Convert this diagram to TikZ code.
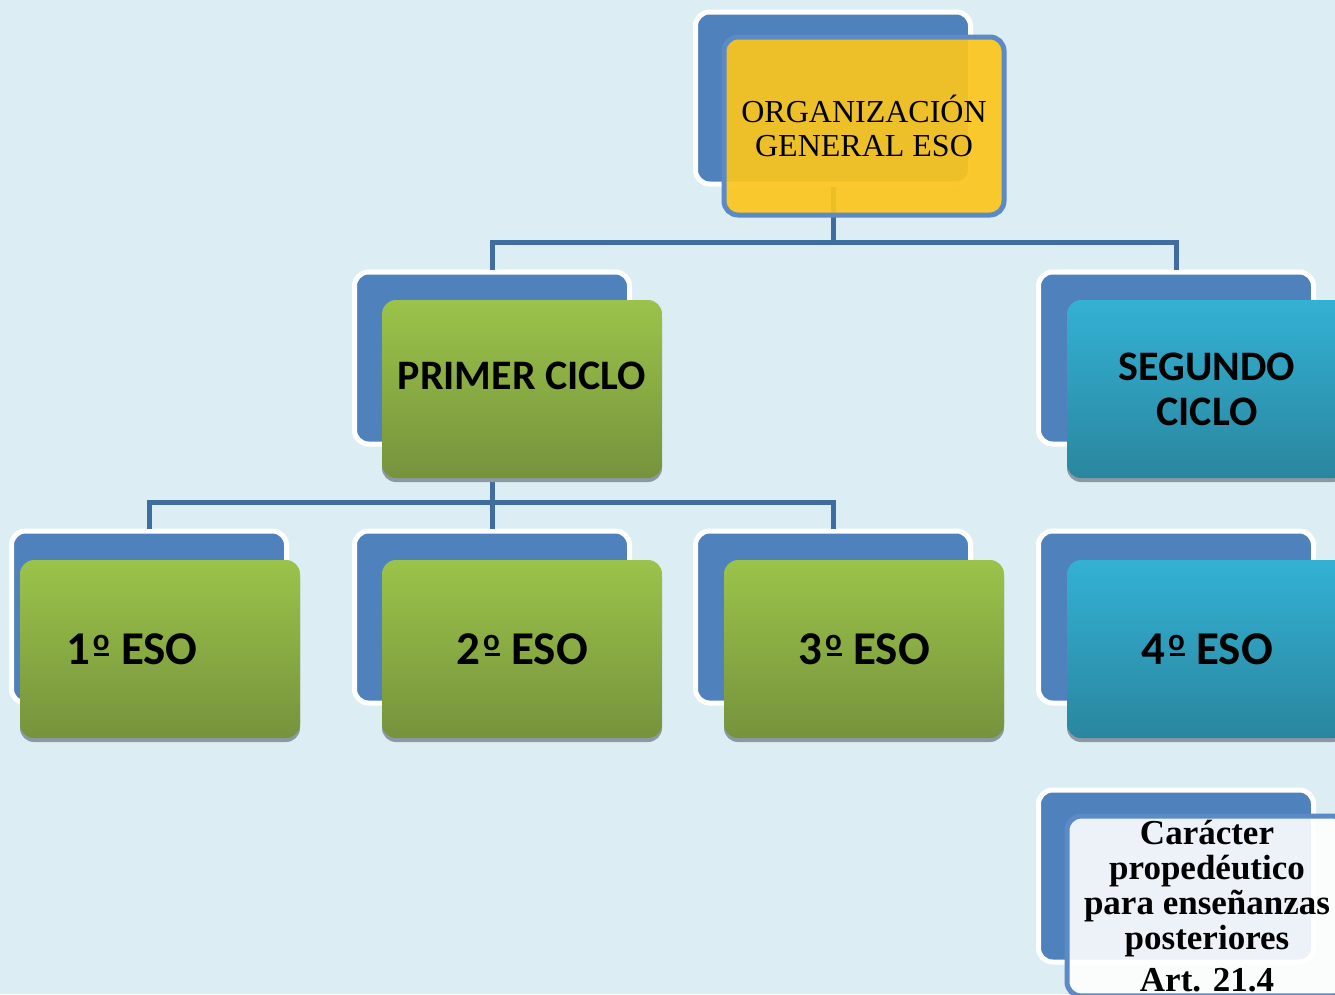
\documentclass[tikz,border=0pt]{standalone}
\usepackage{fontspec}
\setmainfont{Liberation Serif}
\newfontfamily\boxsans{Carlito}
\usetikzlibrary{shadows}

\definecolor{bgblue}{HTML}{DCEEF4}
\definecolor{backblue}{HTML}{4F81BD}
\definecolor{linkblue}{HTML}{3F6DA0}
\definecolor{rimblue}{HTML}{5B8AC6}
\definecolor{greentop}{HTML}{9BC34A}
\definecolor{greenbot}{HTML}{76933C}
\definecolor{tealtop}{HTML}{33B1D4}
\definecolor{tealbot}{HTML}{2A869E}
\definecolor{goldfill}{HTML}{FBC51C}
\definecolor{shadowgray}{HTML}{8C98A4}

% ordinal sign as printed in the boxes
\newcommand{\ordo}{\kern3pt\raisebox{14pt}{\fontsize{31}{31}\selectfont o}\llap{\rule[8pt]{15pt}{3pt}}\kern1pt}

\tikzset{
  backbox/.style={rounded corners=14pt, fill=backblue, draw=white, line width=5pt,
    minimum width=275pt, minimum height=172pt},
  frontbox/.style={rounded corners=14pt, minimum width=280pt, minimum height=178pt,
    align=center, inner sep=4pt},
  cyclebox/.style={frontbox, drop shadow={shadow xshift=0pt, shadow yshift=-4pt,
    opacity=1, fill=shadowgray}, font=\boxsans\bfseries\fontsize{42}{45}\selectfont},
  greenbox/.style={cyclebox, top color=greentop, bottom color=greenbot},
  tealbox/.style={cyclebox, top color=tealtop, bottom color=tealbot},
  yearbox/.style={font=\boxsans\bfseries\fontsize{47}{50}\selectfont},
  link/.style={draw=linkblue, line width=5pt}
}

\begin{document}
\begin{tikzpicture}[x=1pt, y=-1pt]
  \path[use as bounding box] (0,0) rectangle (1335,994);
  \clip (0,0) rectangle (1335,994);
  \fill[bgblue] (0,0) rectangle (1335,994);

  % blue boxes behind
  \node[backbox] at (833,98)   (orgback) {};
  \node[backbox] at (492,358)  (primerback) {};
  \node[backbox] at (1176,358) (segundoback) {};
  \node[backbox] at (149,617)  (unoback) {};
  \node[backbox] at (492,617)  (dosback) {};
  \node[backbox] at (833,617)  (tresback) {};
  \node[backbox] at (1176,617) (cuatroback) {};
  \node[backbox] at (1176,876) (caracterback) {};

  % connectors
  \draw[link] (orgback.south) -- ++(0,56) coordinate (orghub) -| (primerback.north);
  \draw[link] (orghub) -| (segundoback.north);
  \draw[link] (primerback.south) -- ++(0,56) coordinate (primerhub) -| (unoback.north);
  \draw[link] (primerhub) -- (dosback.north);
  \draw[link] (primerhub) -| (tresback.north);

  % front boxes
  \node[frontbox, fill=goldfill, fill opacity=0.92, text opacity=1, draw=rimblue,
    line width=5pt, font=\fontsize{32}{34}\selectfont] at (864,126) (org)
    {ORGANIZACIÓN\\GENERAL ESO};
  \node[greenbox] at (522,389) (primer) {PRIMER CICLO\\[-19pt]};
  \node[tealbox] at (1207,389) (segundo) {SEGUNDO\\CICLO};
  \node[greenbox, yearbox, align=flush left, inner xsep=46pt, text width=188pt] at (160,649) (uno) {1\ordo{} ESO};
  \node[greenbox, yearbox] at (522,649) (dos) {2\ordo{} ESO};
  \node[greenbox, yearbox] at (864,649) (tres) {3\ordo{} ESO};
  \node[tealbox, yearbox] at (1207,649) (cuatro) {4\ordo{} ESO};
  \node[frontbox, fill=white, fill opacity=0.9, text opacity=1, draw=rimblue,
    line width=5pt, font=\bfseries\fontsize{35}{35}\selectfont] at (1207,906) (caracter)
    {Carácter\\propedéutico\\para enseñanzas\\posteriores\\[7pt]Art. 21.4};
\end{tikzpicture}
\end{document}
